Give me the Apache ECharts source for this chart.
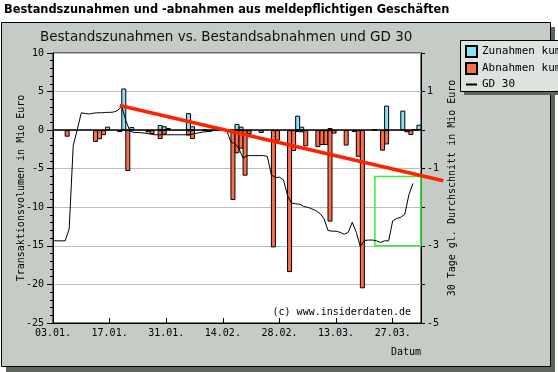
<!DOCTYPE html>
<html><head><meta charset="utf-8">
<script src="https://cdn.jsdelivr.net/npm/echarts@6/dist/echarts.min.js"></script>
<style>html,body{margin:0;padding:0;background:#fff;overflow:hidden}#c{width:558px;height:372px}</style>
</head><body><div id="c"></div>
<script>
// x values are day numbers counted from 03.01. (leap year, 91 days shown)
const tickLabels = ['03.01.', '17.01.', '31.01.', '14.02.', '28.02.', '13.03.', '27.03.'];

// Bestandszunahmen kumuliert per day [day, Mio Euro]
const zunahmen = [[13,0.45],[17,5.4],[19,0.4],[26,0.67],[27,0.5],[28,0.28],[33,2.2],[34,0.5],[37,0.1],[40,0.1],
  [45,0.8],[46,0.45],[60,1.88],[61,0.45],[68,0.28],[79,0.05],[82,3.18],[86,2.53],[89,0.1],[90,0.7]];

// Bestandsabnahmen kumuliert per day [day, Mio Euro]
const abnahmen = [[3,-0.85],[10,-1.52],[11,-1.18],[12,-0.65],[16,-0.25],[18,-5.3],[23,-0.28],[24,-0.5],[26,-1.15],
  [27,-0.58],[33,-0.7],[34,-1.15],[37,-0.1],[38,-0.25],[44,-9.05],[45,-3.0],[46,-2.4],[47,-5.9],[48,-0.5],[51,-0.37],
  [54,-15.2],[55,-1.36],[58,-18.4],[59,-2.7],[60,-0.25],[61,-0.28],[62,-2.1],[65,-2.2],[66,-1.93],[67,-1.93],
  [68,-11.85],[69,-0.45],[72,-2.0],[74,-0.25],[75,-3.45],[76,-20.5],[81,-2.66],[82,-1.85],[87,-0.28],[88,-0.63]];

// GD 30 (30-day average, right axis), one value per day starting 03.01.
const gd30 = [-2.87,-2.87,-2.87,-2.87,-2.56,-0.40,0.01,0.45,0.43,0.42,
  0.44,0.45,0.45,0.46,0.46,0.47,0.51,0.62,0.25,-0.02,
  -0.06,-0.06,-0.07,-0.08,-0.10,-0.12,-0.12,-0.12,-0.12,-0.12,
  -0.12,-0.12,-0.12,-0.12,-0.11,-0.09,-0.07,-0.05,-0.04,-0.03,
  0.00,0.02,0.05,-0.02,-0.31,-0.35,-0.48,-0.73,-0.66,-0.66,
  -0.66,-0.66,-0.66,-0.68,-1.16,-1.23,-1.22,-1.29,-1.70,-1.89,
  -1.91,-1.92,-1.98,-2.00,-2.04,-2.09,-2.16,-2.29,-2.60,-2.62,
  -2.62,-2.65,-2.70,-2.65,-2.39,-2.65,-3.02,-2.86,-2.85,-2.85,
  -2.87,-2.91,-2.87,-2.87,-2.35,-2.29,-2.26,-2.18,-1.68,-1.38];

// hand-drawn trend line and highlight box (right axis units)
const trendLine = [[16.5, 0.64], [96.5, -1.31]];
const highlightBox = [[79.6, -1.2], [91, -3.0]];

const mono = 'DejaVu Sans Mono';
const sans = 'DejaVu Sans';
const dayCenter = arr => arr.map(([d, v]) => [d + 0.5, v]); // a bar covers its whole day
const barBase = {type: 'bar', yAxisIndex: 0, barWidth: 5, barGap: '-100%'};

const chart = echarts.init(document.getElementById('c'), null, {renderer: 'canvas'});
chart.setOption({
  animation: false,
  backgroundColor: '#fff',
  title: [
    {text: 'Bestandszunahmen und -abnahmen aus meldepflichtigen Geschäften', left: 4, top: 5, padding: 0,
     textStyle: {fontFamily: sans, fontSize: 11.4, fontWeight: 'bold', color: '#000'}},
    {text: 'Bestandszunahmen vs. Bestandsabnahmen und GD 30', left: 40, top: 30, padding: 0,
     textStyle: {fontFamily: sans, fontSize: 13.5, fontWeight: 'normal', color: '#111'}}
  ],
  legend: {
    orient: 'vertical', left: 465, top: 45, padding: 0, itemGap: 4, itemWidth: 11, itemHeight: 11,
    textStyle: {fontFamily: mono, fontSize: 11, color: '#000'},
    data: [
      {name: 'Zunahmen kum', icon: 'rect'},
      {name: 'Abnahmen kum', icon: 'rect'},
      {name: 'GD 30', itemStyle: {opacity: 0}, lineStyle: {width: 2, color: '#000'}}
    ]
  },
  graphic: [
    {type: 'rect', z: -20, shape: {x: 6, y: 27, width: 549, height: 345}, style: {fill: '#5d655d'}},
    {type: 'rect', z: -19, shape: {x: 1.5, y: 22.5, width: 549, height: 344}, style: {fill: '#c5cbc5', stroke: '#000', lineWidth: 1}},
    {type: 'rect', z: -18, shape: {x: 464, y: 43, width: 100, height: 52}, style: {fill: '#5d655d'}},
    {type: 'rect', z: -17, shape: {x: 460.5, y: 40.5, width: 100, height: 51}, style: {fill: '#dfe3df', stroke: '#000', lineWidth: 1}},
    {type: 'text', z: 10, x: 411, y: 312, style: {text: '(c) www.insiderdaten.de', fontFamily: mono, fontSize: 10,
      fill: '#000', align: 'right', verticalAlign: 'middle'}}
  ],
  grid: {left: 53, top: 53, right: 137, bottom: 49, show: true, backgroundColor: '#fff',
         borderColor: '#000', borderWidth: 1, outerBoundsMode: 'none', containLabel: false},
  xAxis: {
    type: 'value', min: 0, max: 91, interval: 14,
    axisLine: {show: true, onZero: false, lineStyle: {color: '#000'}},
    axisTick: {show: true, inside: true, length: 5, lineStyle: {color: '#000'}},
    axisLabel: {formatter: v => (v % 14 === 0 && tickLabels[v / 14]) || '', fontFamily: mono, fontSize: 10,
                color: '#000', margin: 5, showMaxLabel: false},
    splitLine: {show: false},
    name: 'Datum', nameLocation: 'end', nameGap: 0, nameMoveOverlap: false,
    nameTextStyle: {fontFamily: mono, fontSize: 10, color: '#000', align: 'right', verticalAlign: 'top', padding: [24, 0, 0, 0]}
  },
  yAxis: [
    {
      type: 'value', min: -25, max: 10, interval: 5, position: 'left',
      axisLine: {show: true, lineStyle: {color: '#000'}},
      axisTick: {show: true, length: 6, lineStyle: {color: '#000'}},
      minorTick: {show: true, splitNumber: 5, length: 3, lineStyle: {color: '#000'}},
      axisLabel: {fontFamily: mono, fontSize: 10, color: '#000', margin: 9},
      splitLine: {show: true, lineStyle: {color: '#bdbdbd', width: 1}},
      name: 'Transaktionsvolumen in Mio Euro', nameLocation: 'middle', nameGap: 27, nameRotate: 90, nameMoveOverlap: false,
      nameTextStyle: {fontFamily: mono, fontSize: 10, color: '#000'}
    },
    {
      type: 'value', min: -5, max: 2, interval: 1, position: 'right',
      axisLine: {show: true, lineStyle: {color: '#000'}},
      axisTick: {show: true, length: 4, lineStyle: {color: '#000'}},
      axisLabel: {formatter: v => (Math.abs(v) % 2 === 1 ? String(v) : ''), fontFamily: mono, fontSize: 10,
                  color: '#000', margin: 6},
      splitLine: {show: false},
      name: '30 Tage gl. Durchschnitt in Mio Euro', nameLocation: 'middle', nameGap: 26, nameRotate: 90, nameMoveOverlap: false,
      nameTextStyle: {fontFamily: mono, fontSize: 10, color: '#000'}
    }
  ],
  series: [
    Object.assign({}, barBase, {
      name: 'Zunahmen kum', data: dayCenter(zunahmen),
      itemStyle: {color: '#8ae2f8', borderColor: '#000', borderWidth: 1}
    }),
    Object.assign({}, barBase, {
      name: 'Abnahmen kum', data: dayCenter(abnahmen),
      itemStyle: {color: '#fa6e4c', borderColor: '#000', borderWidth: 1},
      markLine: {silent: true, symbol: 'none', label: {show: false}, lineStyle: {color: '#000', width: 1.5, type: 'solid'},
                 data: [{yAxis: 0}]}
    }),
    {
      name: 'GD 30', type: 'line', yAxisIndex: 1, symbol: 'none', showSymbol: false,
      data: gd30.map((v, d) => [d, v]),
      lineStyle: {color: '#000', width: 1}, itemStyle: {color: '#000'}, z: 3,
      markArea: {silent: true, itemStyle: {color: 'rgba(0,0,0,0)', borderColor: '#33ee33', borderWidth: 1.5},
                 data: [[{coord: highlightBox[0]}, {coord: highlightBox[1]}]]}
    }
  ]
});

// trend line runs past the plot's right edge in the original, so draw it unclipped via the chart's own scales
const trendPts = trendLine.map(p => chart.convertToPixel({xAxisIndex: 0, yAxisIndex: 1}, p));
chart.setOption({
  graphic: [{id: 'trend', type: 'polyline', z: 20, shape: {points: trendPts},
             style: {stroke: '#ff2200', lineWidth: 3.5, fill: null}}]
});
</script></body></html>
